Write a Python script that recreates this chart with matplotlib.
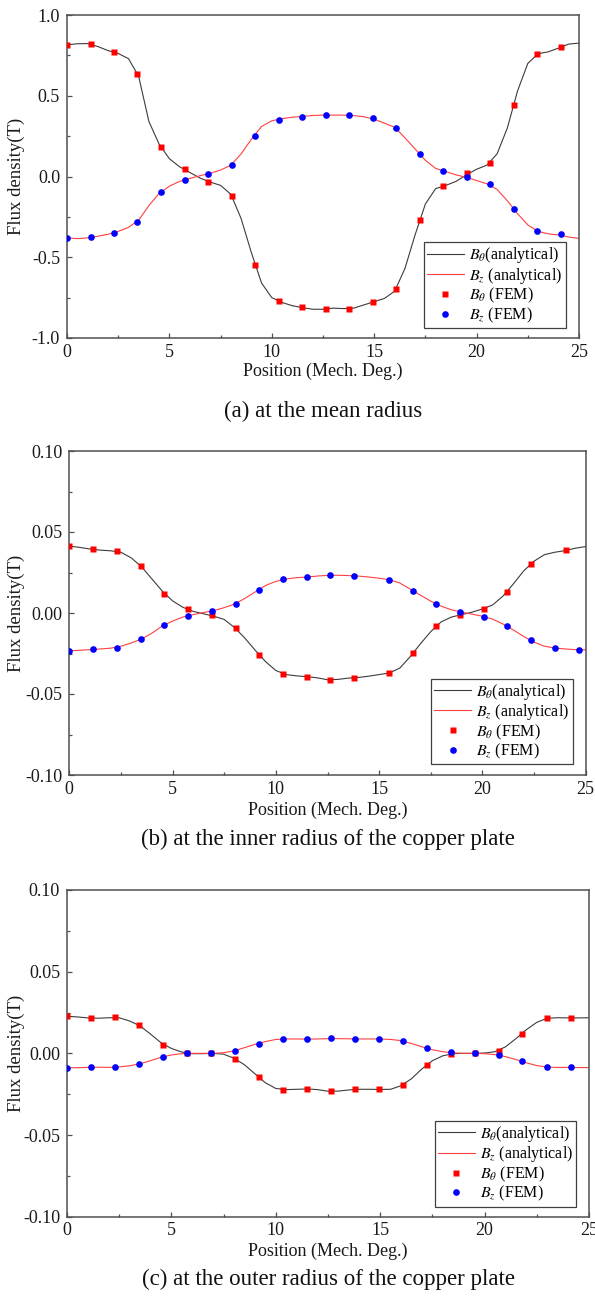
import numpy as np
import matplotlib
matplotlib.use("Agg")
import matplotlib.pyplot as plt
from matplotlib.ticker import MultipleLocator, FormatStrFormatter

plt.rcParams['font.family'] = ['Liberation Serif', 'DejaVu Serif']
plt.rcParams['mathtext.fontset'] = 'stix'
plt.rcParams['axes.unicode_minus'] = False

# Sampling positions of the analytical curves (mechanical degrees)
pos_line = np.arange(0, 25.01, 0.5)

# ---------------- (a) mean radius ----------------
a_bt_line = [0.815, 0.822, 0.823, 0.805, 0.780, 0.762, 0.730, 0.620, 0.340, 0.200,
             0.110, 0.060, 0.025, -0.010, -0.035, -0.055, -0.110, -0.260, -0.470, -0.660,
             -0.750, -0.780, -0.800, -0.812, -0.822, -0.822, -0.815, -0.818, -0.815, -0.795,
             -0.775, -0.755, -0.710, -0.570, -0.360, -0.170, -0.075, -0.055, -0.030, 0.010,
             0.045, 0.070, 0.140, 0.300, 0.530, 0.700, 0.760, 0.772, 0.795, 0.820, 0.826]
a_bz_line = [-0.379, -0.385, -0.380, -0.370, -0.358, -0.340, -0.315, -0.270, -0.180, -0.105,
             -0.060, -0.030, -0.012, 0.005, 0.020, 0.040, 0.070, 0.140, 0.230, 0.310,
             0.345, 0.358, 0.367, 0.372, 0.378, 0.380, 0.380, 0.380, 0.377, 0.370,
             0.355, 0.330, 0.305, 0.240, 0.170, 0.100, 0.050, 0.030, 0.010, -0.005,
             -0.025, -0.045, -0.080, -0.150, -0.230, -0.300, -0.340, -0.355, -0.362, -0.375, -0.383]
a_fem_pos = [0.0, 1.15, 2.3, 3.44, 4.59, 5.74, 6.89, 8.04, 9.18, 10.33, 11.48,
             12.63, 13.78, 14.92, 16.07, 17.22, 18.37, 19.52, 20.66, 21.81, 22.96, 24.11]
a_bt_fem = [0.815, 0.821, 0.768, 0.637, 0.185, 0.048, -0.032, -0.123, -0.551, -0.770, -0.811,
            -0.820, -0.820, -0.780, -0.699, -0.270, -0.059, 0.020, 0.082, 0.443, 0.758, 0.799]
a_bz_fem = [-0.379, -0.377, -0.350, -0.280, -0.098, -0.024, 0.017, 0.071, 0.251, 0.350, 0.371,
            0.379, 0.381, 0.361, 0.301, 0.139, 0.034, -0.001, -0.048, -0.200, -0.338, -0.359]

# ---------------- (b) inner radius of the copper plate ----------------
b_bt_line = [0.0413, 0.0405, 0.0395, 0.0388, 0.0384, 0.0375, 0.0340, 0.0285, 0.0210, 0.0135,
             0.0075, 0.0035, 0.0010, -0.0005, -0.0020, -0.0040, -0.0090, -0.0155, -0.0230, -0.0300,
             -0.0355, -0.0380, -0.0388, -0.0393, -0.0400, -0.0412, -0.0410, -0.0402, -0.0398, -0.0390,
             -0.0380, -0.0370, -0.0340, -0.0270, -0.0190, -0.0115, -0.0055, -0.0025, -0.0010, 0.0005,
             0.0025, 0.0050, 0.0105, 0.0180, 0.0260, 0.0320, 0.0360, 0.0375, 0.0385, 0.0400, 0.0410]
b_bz_line = [-0.0233, -0.0230, -0.0226, -0.0222, -0.0217, -0.0205, -0.0185, -0.0160, -0.0125, -0.0080,
             -0.0050, -0.0025, -0.0010, 0.0003, 0.0015, 0.0033, 0.0055, 0.0090, 0.0130, 0.0170,
             0.0195, 0.0210, 0.0218, 0.0222, 0.0228, 0.0232, 0.0233, 0.0231, 0.0228, 0.0222,
             0.0215, 0.0205, 0.0185, 0.0148, 0.0110, 0.0073, 0.0042, 0.0020, 0.0005, -0.0007,
             -0.0020, -0.0038, -0.0068, -0.0105, -0.0145, -0.0180, -0.0205, -0.0216, -0.0222, -0.0226, -0.0227]
b_bt_fem_pos = [0.0, 1.15, 2.3, 3.45, 4.6, 5.75, 6.9, 8.05, 9.2, 10.34, 11.49,
                12.63, 13.78, 15.47, 16.64, 17.76, 18.91, 20.06, 21.2, 22.36, 24.07]
b_bt_fem = [0.0413, 0.0392, 0.0382, 0.0291, 0.0119, 0.0022, -0.0015, -0.0091, -0.0260, -0.0377, -0.0392,
            -0.0412, -0.0400, -0.0373, -0.0248, -0.0083, -0.0015, 0.0026, 0.0127, 0.0302, 0.0386]
b_bz_fem_pos = [0.0, 1.15, 2.3, 3.45, 4.6, 5.75, 6.9, 8.05, 9.2, 10.34, 11.49,
                12.63, 13.78, 15.47, 16.64, 17.76, 18.91, 20.06, 21.2, 22.36, 23.5, 24.66]
b_bz_fem = [-0.0233, -0.0225, -0.0213, -0.0163, -0.0075, -0.0017, 0.0012, 0.0057, 0.0145, 0.0207, 0.0222,
            0.0232, 0.0228, 0.0205, 0.0137, 0.0055, 0.0007, -0.0022, -0.0079, -0.0167, -0.0215, -0.0227]

# ---------------- (c) outer radius of the copper plate ----------------
c_bt_line = [0.0227, 0.0223, 0.0217, 0.0215, 0.0218, 0.0218, 0.0198, 0.0168, 0.0118, 0.0065,
             0.0030, 0.0008, -0.0002, -0.0002, 0.0000, -0.0005, -0.0030, -0.0070, -0.0125, -0.0180,
             -0.0215, -0.0222, -0.0220, -0.0218, -0.0222, -0.0232, -0.0231, -0.0224, -0.0220, -0.0220,
             -0.0221, -0.0220, -0.0198, -0.0155, -0.0095, -0.0045, -0.0015, -0.0002, 0.0000, 0.0000,
             0.0002, 0.0010, 0.0040, 0.0090, 0.0145, 0.0190, 0.0215, 0.0218, 0.0217, 0.0217, 0.0218]
c_bz_line = [-0.0088, -0.0088, -0.0086, -0.0085, -0.0086, -0.0083, -0.0076, -0.0064, -0.0045, -0.0024,
             -0.0010, -0.0002, 0.0000, 0.0000, 0.0000, 0.0004, 0.0015, 0.0035, 0.0055, 0.0072,
             0.0085, 0.0088, 0.0088, 0.0087, 0.0088, 0.0090, 0.0090, 0.0089, 0.0088, 0.0088,
             0.0088, 0.0085, 0.0078, 0.0060, 0.0040, 0.0022, 0.0010, 0.0003, 0.0000, 0.0000,
             -0.0002, -0.0008, -0.0020, -0.0038, -0.0058, -0.0075, -0.0084, -0.0086, -0.0086, -0.0087, -0.0087]
c_fem_pos = [0.0, 1.15, 2.3, 3.45, 4.6, 5.75, 6.9, 8.05, 9.2, 10.34, 11.48,
             12.63, 13.79, 14.94, 16.09, 17.22, 18.37, 19.52, 20.69, 21.8, 22.97, 24.12]
c_bt_fem = [0.0227, 0.0215, 0.0221, 0.0172, 0.0049, 0.0000, 0.0000, -0.0033, -0.0147, -0.0225, -0.0217,
            -0.0233, -0.0221, -0.0221, -0.0194, -0.0073, -0.0006, 0.0000, 0.0015, 0.0117, 0.0215, 0.0215]
c_bz_fem = [-0.0088, -0.0084, -0.0086, -0.0067, -0.0020, 0.0000, 0.0000, 0.0017, 0.0060, 0.0088, 0.0086,
            0.0092, 0.0088, 0.0088, 0.0076, 0.0031, 0.0006, 0.0000, -0.0010, -0.0047, -0.0082, -0.0084]

legend_labels = [r'$B_\theta$(analytical)', r'$B_z$ (analytical)',
                 r'$B_\theta$ (FEM)', r'$B_z$ (FEM)']
captions = ['(a) at the mean radius',
            '(b) at the inner radius of the copper plate',
            '(c) at the outer radius of the copper plate']

W, H = 595, 1298
fig = plt.figure(figsize=(W / 100, H / 100), dpi=100)


def px_rect(l, t, r, b):
    return [l / W, 1 - b / H, (r - l) / W, (b - t) / H]


SPINE = '#505050'
LINE_K = '#3c3c3c'
LINE_R = '#ff4040'


def draw_panel(rect, bt_line, bz_line, bt_pos, bt_fem, bz_pos, bz_fem,
               ylim, ymajor, yfmt, leg_anchor, caption, cap_y, ylab_x, xlab_y):
    ax = fig.add_axes(px_rect(*rect))
    ax.plot(pos_line, bt_line, color=LINE_K, lw=0.8, label=legend_labels[0], zorder=2)
    ax.plot(pos_line, bz_line, color=LINE_R, lw=0.8, label=legend_labels[1], zorder=2)
    ax.plot(bt_pos, bt_fem, ls='none', marker='s', ms=4.6, color='#ff0000',
            mec='none', label=legend_labels[2], zorder=3)
    ax.plot(bz_pos, bz_fem, ls='none', marker='o', ms=4.8, color='#0000ff',
            mec='none', label=legend_labels[3], zorder=4)
    ax.set_xlim(0, 25)
    ax.set_ylim(*ylim)
    ax.xaxis.set_major_locator(MultipleLocator(5))
    ax.xaxis.set_minor_locator(MultipleLocator(2.5))
    ax.yaxis.set_major_locator(MultipleLocator(ymajor))
    ax.yaxis.set_minor_locator(MultipleLocator(ymajor / 2))
    ax.yaxis.set_major_formatter(FormatStrFormatter(yfmt))
    ax.tick_params(which='both', direction='in', color=SPINE, width=0.9,
                   labelsize=13, labelcolor='#1a1a1a')
    ax.tick_params(which='major', length=3.4)
    ax.tick_params(which='minor', length=2.4)
    ax.tick_params(axis='x', pad=4)
    ax.tick_params(axis='y', pad=5)
    for s in ax.spines.values():
        s.set_color(SPINE)
        s.set_linewidth(1.1)
    ax.set_xlabel('Position (Mech. Deg.)', fontsize=13, color='#1a1a1a')
    ax.set_ylabel('Flux density(T)', fontsize=13.5, color='#1a1a1a')
    ax.xaxis.set_label_coords(0.5, xlab_y)
    ax.yaxis.set_label_coords(ylab_x, 0.5)
    leg = ax.legend(loc='lower right', bbox_to_anchor=leg_anchor, borderaxespad=0,
                    fontsize=11.5, frameon=True, fancybox=False, framealpha=1,
                    edgecolor='#404040', handlelength=2.3, handletextpad=0.35,
                    labelspacing=0.02, borderpad=0.2, numpoints=1)
    leg.get_frame().set_linewidth(0.9)
    l, t, r, b = rect
    fig.text(((l + r) / 2) / W, 1 - cap_y / H, caption, fontsize=16.5,
             ha='center', va='center', color='#111111')
    return ax


draw_panel((67, 15, 579, 338), a_bt_line, a_bz_line, a_fem_pos, a_bt_fem,
           a_fem_pos, a_bz_fem, (-1.0, 1.0), 0.5, '%.1f',
           (0.974, 0.031), captions[0], 411, -0.082, -0.077)
draw_panel((69.3, 451, 585.7, 775), b_bt_line, b_bz_line, b_bt_fem_pos, b_bt_fem,
           b_bz_fem_pos, b_bz_fem, (-0.10, 0.10), 0.05, '%.2f',
           (0.975, 0.033), captions[1], 839, -0.086, -0.083)
draw_panel((67, 890, 589, 1216.7), c_bt_line, c_bz_line, c_fem_pos, c_bt_fem,
           c_fem_pos, c_bz_fem, (-0.10, 0.10), 0.05, '%.2f',
           (0.976, 0.031), captions[2], 1279, -0.08, -0.08)

fig.savefig('out.png', dpi=100)
